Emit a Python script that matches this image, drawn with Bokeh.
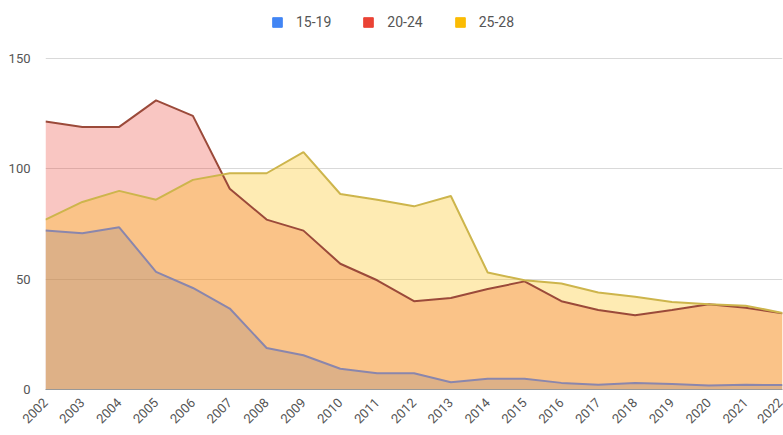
import math
from bokeh.plotting import figure
from bokeh.models import Range1d, FixedTicker, Legend, LegendItem
from bokeh.embed import file_html
from bokeh.resources import INLINE

# Yearly values per age group
years = list(range(2002, 2023))
year_labels = [str(y) for y in years]
age_15_19 = [72, 70.8, 73.5, 53.3, 46, 36.7, 18.8, 15.5, 9.4, 7.4, 7.4, 3.3, 4.9, 4.9, 3, 2.1, 3, 2.5, 1.8, 2.1, 2]
age_20_24 = [121.5, 119, 119, 131, 124, 91, 77, 72, 57, 49.5, 40, 41.5, 45.5, 49, 40, 36, 33.6, 36, 38.6, 37, 34.5]
age_25_28 = [77, 85, 90, 86, 95, 98, 98, 107.6, 88.6, 86, 83, 87.7, 53, 49.5, 48, 44, 42, 39.7, 38.6, 38, 34.7]
series_names = ["15-19", "20-24", "25-28"]
y_ticks = [0, 50, 100, 150]

FONT = "Roboto"
TEXT_COLOR = "#555555"
fill_colors = ["#4285f4", "#ea4335", "#fbbc04"]
line_colors = ["#8a86ac", "#9b4a3a", "#cdb54c"]

# the frame reaches the top of the canvas so the legend can sit inside it,
# above the 150 gridline (58 px of headroom over a 331 px tall 0..150 span)
y_top = 150 + 58 * 150 / 331

p = figure(width=783, height=435, output_backend="svg", toolbar_location=None,
           x_range=Range1d(2002, 2022), y_range=Range1d(0, y_top),
           min_border_left=45, min_border_right=1, min_border_top=0, min_border_bottom=46)
p.outline_line_color = None
p.background_fill_color = "white"
p.border_fill_color = "white"

# overlapping areas, each drawn on top of the previous one
for vals, fc in zip([age_15_19, age_20_24, age_25_28], fill_colors):
    p.varea(x=years, y1=[0] * len(years), y2=vals, fill_color=fc, fill_alpha=0.3)
for vals, lc in zip([age_15_19, age_20_24, age_25_28], line_colors):
    p.line(x=years, y=vals, line_color=lc, line_width=2)

# axes
p.xgrid.grid_line_color = None
p.ygrid.grid_line_color = "#d9d9d9"
p.ygrid.ticker = FixedTicker(ticks=y_ticks)
p.yaxis.ticker = FixedTicker(ticks=y_ticks)
p.yaxis.axis_line_color = None
p.yaxis.major_tick_line_color = None
p.yaxis.minor_tick_line_color = None
p.yaxis.major_label_standoff = 9
p.yaxis.major_label_text_font = FONT
p.yaxis.major_label_text_font_size = "13px"
p.yaxis.major_label_text_color = TEXT_COLOR

p.xaxis.ticker = FixedTicker(ticks=years)
p.xaxis.major_label_overrides = {y: s for y, s in zip(years, year_labels)}
p.xaxis.major_label_orientation = math.pi / 4
p.xaxis.axis_line_color = "#999999"
p.xaxis.major_tick_line_color = None
p.xaxis.minor_tick_line_color = None
p.xaxis.major_label_standoff = 5
p.xaxis.major_label_text_font = FONT
p.xaxis.major_label_text_font_size = "13px"
p.xaxis.major_label_text_color = TEXT_COLOR

# legend swatches: one off-screen box per series supplies the solid colour
items = []
for name, fc in zip(series_names, fill_colors):
    r = p.quad(left=[1990], right=[1991], bottom=[-60], top=[-50], fill_color=fc, line_color=fc)
    items.append(LegendItem(label=name, renderers=[r]))
legend = Legend(items=items, orientation="horizontal", location=(226, 359),
                label_text_font=FONT, label_text_font_size="14px", label_text_color=TEXT_COLOR,
                glyph_width=12, glyph_height=12, spacing=31, label_standoff=13,
                border_line_color=None, background_fill_alpha=0, padding=0, margin=0)
p.add_layout(legend, "center")

open("out.html", "w").write(file_html(p, INLINE))
